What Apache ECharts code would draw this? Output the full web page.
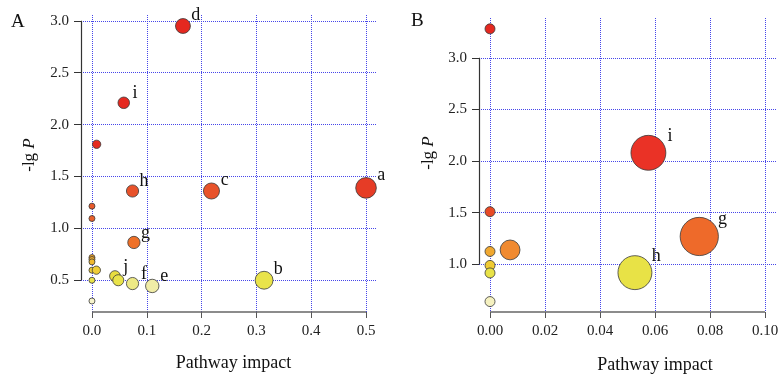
<!DOCTYPE html>
<html><head><meta charset="utf-8">
<script src="https://cdn.jsdelivr.net/npm/echarts@6/dist/echarts.min.js"></script>
<style>html,body{margin:0;padding:0;background:#fff}#c{width:783px;height:379px}</style>
</head><body><div id="c"></div>
<script>
// ---------- Panel A data ----------
const impactA = [0.166, 0.058, 0.0085, 0.074, 0.218, 0.5, 0, 0, 0.0765, 0, 0, 0, 0, 0.008, 0, 0, 0.042, 0.048, 0.074, 0.11, 0.314];
const logPA   = [2.95, 2.21, 1.81, 1.36, 1.36, 1.39, 1.214, 1.095, 0.864, 0.719, 0.70, 0.677, 0.597, 0.597, 0.50, 0.30, 0.54, 0.50, 0.468, 0.445, 0.50];
const namesA  = ['d', 'i', '', 'h', 'c', 'a', '', '', 'g', '', '', '', '', '', '', '', 'j', '', 'f', 'e', 'b'];
const xRangeA = [-0.02, 0.52];
const yRangeA = [0.194, 3.056];
const xTicksA = [0, 0.1, 0.2, 0.3, 0.4, 0.5];
const yTicksA = [0.5, 1.0, 1.5, 2.0, 2.5, 3.0];

// ---------- Panel B data ----------
const impactB = [0, 0.0576, 0, 0.0761, 0.0073, 0, 0, 0, 0.0527, 0];
const logPB   = [3.28, 2.08, 1.51, 1.27, 1.14, 1.125, 0.99, 0.917, 0.92, 0.64];
const namesB  = ['', 'i', '', 'g', '', '', '', '', 'h', ''];
const xRangeB = [-0.004, 0.104];
const yRangeB = [0.539, 3.385];
const xTicksB = [0, 0.02, 0.04, 0.06, 0.08, 0.10];
const yTicksB = [1.0, 1.5, 2.0, 2.5, 3.0];

const SERIF = 'Liberation Serif, Times New Roman, serif';

function hex2rgb(h){return [parseInt(h.substr(1,2),16),parseInt(h.substr(3,2),16),parseInt(h.substr(5,2),16)];}
function colorFor(v, stops){
  if (v <= stops[0][0]) return stops[0][1];
  for (let i = 1; i < stops.length; i++) {
    if (v <= stops[i][0]) {
      const t = (v - stops[i-1][0]) / (stops[i][0] - stops[i-1][0]);
      const a = hex2rgb(stops[i-1][1]), b = hex2rgb(stops[i][1]);
      return 'rgb(' + a.map((c,k)=>Math.round(c + (b[k]-c)*t)).join(',') + ')';
    }
  }
  return stops[stops.length-1][1];
}
const stopsA = [[0.30,'#f7f4cf'],[0.45,'#f0eca6'],[0.50,'#e9e34a'],[0.55,'#e8dc3c'],[0.60,'#efcc36'],[0.68,'#f0b830'],[0.72,'#efa02c'],[0.86,'#ee7028'],[1.10,'#e8602c'],[1.36,'#e8522a'],[1.39,'#e63c26'],[1.8,'#e52a20'],[3.0,'#e52820']];
const stopsB = [[0.64,'#f5f1c0'],[0.92,'#e8e246'],[0.99,'#efca34'],[1.125,'#f0a830'],[1.14,'#f08a30'],[1.27,'#ee6a2a'],[1.51,'#e84a26'],[2.08,'#ea3226'],[3.3,'#e52820']];

function buildSeries(idx, xs, ys, names, base, k, stops, xr, yr, xt, yt) {
  const data = xs.map((x, i) => {
    const size = base + k * Math.pow(x, 0.45);
    const r = size / 2;
    return {
      value: [x, ys[i]],
      name: names[i],
      symbolSize: size,
      itemStyle: { color: colorFor(ys[i], stops) },
      label: {
        show: !!names[i],
        position: 'inside',
        offset: [0.9 * r + 6, -(0.6 * r + 6)]
      }
    };
  });
  return {
    type: 'scatter',
    xAxisIndex: idx, yAxisIndex: idx,
    clip: false,
    data: data,
    itemStyle: { borderColor: '#3a3a3a', borderWidth: 0.8, opacity: 1 },
    label: { formatter: '{b}', fontFamily: SERIF, fontSize: 18, color: '#111' },
    emphasis: { disabled: true },
    markLine: {
      silent: true, symbol: ['none', 'none'], animation: false,
      label: { show: false },
      data: [
        [{ coord: [xr[0], yt[0]], lineStyle: { color: '#333', width: 1.2, type: 'solid' } },
         { coord: [xr[0], yt[yt.length-1]] }],
        [{ coord: [xt[0], yr[0]], lineStyle: { color: '#666', width: 1.5, type: 'solid' } },
         { coord: [xt[xt.length-1], yr[0]] }]
      ]
    }
  };
}

const gridLine = { show: true, lineStyle: { color: '#4646ea', width: 1, type: [1, 1] } };

function xAxis(idx, range, ticks, dec, gap, shift) {
  return {
    gridIndex: idx, type: 'value', min: range[0], max: range[1],
    axisLine: { show: false, onZero: false },
    axisTick: { show: true, length: 6, customValues: ticks, lineStyle: { color: '#555', width: 1 } },
    axisLabel: { customValues: ticks, formatter: v => v.toFixed(dec), fontFamily: SERIF, fontSize: 15, color: '#222', margin: 12 },
    splitLine: gridLine,
    name: 'Pathway impact', nameLocation: 'middle', nameGap: gap,
    nameTextStyle: { fontFamily: SERIF, fontSize: 18, color: '#111', padding: [0, 0, 0, shift] }
  };
}
function yAxis(idx, range, ticks, gap, shift) {
  return {
    gridIndex: idx, type: 'value', min: range[0], max: range[1],
    axisLine: { show: false, onZero: false },
    axisTick: { show: true, length: 7, customValues: ticks, lineStyle: { color: '#333', width: 1 } },
    axisLabel: { customValues: ticks, formatter: v => v.toFixed(1), fontFamily: SERIF, fontSize: 15, color: '#222', margin: 12 },
    splitLine: gridLine,
    name: '-lg {i|P}', nameLocation: 'middle', nameGap: gap, nameRotate: 90,
    nameTextStyle: { fontFamily: SERIF, fontSize: 17, color: '#111', padding: [0, 0, 0, shift],
      rich: { i: { fontFamily: SERIF, fontSize: 17, fontStyle: 'italic', color: '#111' } } }
  };
}

const chart = echarts.init(document.getElementById('c'), null, { renderer: 'canvas' });
chart.setOption({
  animation: false,
  backgroundColor: '#fff',
  title: [
    { text: 'A', left: 11, top: 13, padding: 0, textStyle: { fontFamily: SERIF, fontSize: 19, fontWeight: 'normal', color: '#111' } },
    { text: 'B', left: 411, top: 12, padding: 0, textStyle: { fontFamily: SERIF, fontSize: 19, fontWeight: 'normal', color: '#111' } }
  ],
  grid: [
    { left: 81, top: 15, width: 296, height: 297 },
    { left: 479, top: 18, width: 297, height: 296 }
  ],
  xAxis: [xAxis(0, xRangeA, xTicksA, 1, 42, 9), xAxis(1, xRangeB, xTicksB, 2, 44, 55)],
  yAxis: [yAxis(0, yRangeA, yTicksA, 43, 17), yAxis(1, yRangeB, yTicksB, 42, 24)],
  series: [
    buildSeries(0, impactA, logPA, namesA, 6, 20, stopsA, xRangeA, yRangeA, xTicksA, yTicksA),
    buildSeries(1, impactB, logPB, namesB, 10, 90, stopsB, xRangeB, yRangeB, xTicksB, yTicksB)
  ]
});
</script>
</body></html>
